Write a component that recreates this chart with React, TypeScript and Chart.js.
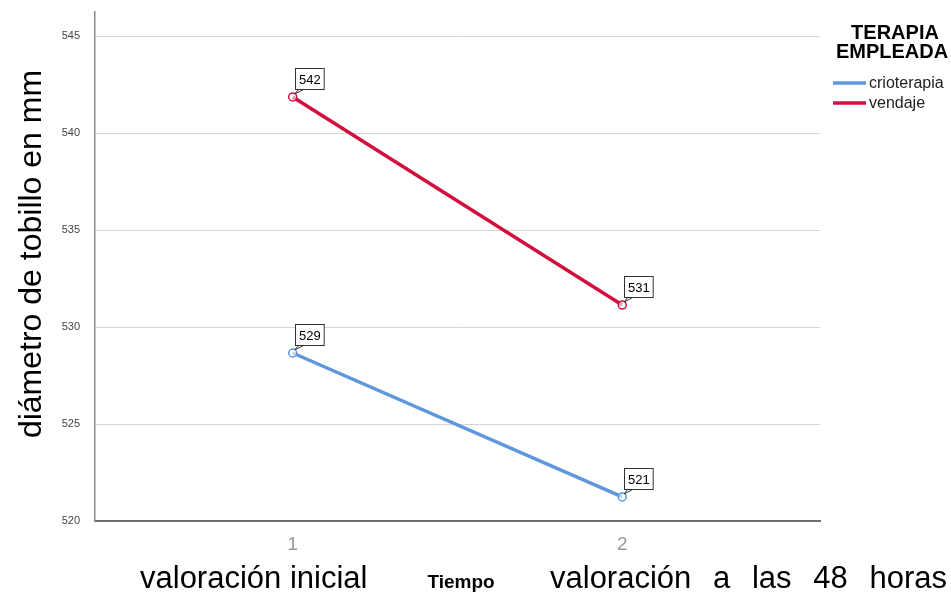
import React, { useEffect, useRef } from 'react';
import { Chart, registerables } from 'chart.js';

Chart.register(...registerables);

// ---- data ----
const timePoints = [1, 2];
const xTickLabels = ['1', '2'];
const yTicks = [520, 525, 530, 535, 540, 545];
const crioterapia = [528.66, 521.24];
const vendaje = [541.86, 531.13];
const crioLabels = ['529', '521'];
const vendajeLabels = ['542', '531'];
const seriesNames = ['crioterapia', 'vendaje'];
const seriesColors = ['#5f97dc', '#d2103e'];
const legendTitle = ['TERAPIA', 'EMPLEADA'];
const yTitle = 'diámetro de tobillo en mm';
const xTitle = 'Tiempo';
const xCatLeft = 'valoración inicial';
const xCatRight = ['valoración', 'a', 'las', '48', 'horas'];

const FONT = '"Liberation Sans", Arial, sans-serif';

const decorPlugin = {
  id: 'decor',
  afterDraw(chart: any) {
    const ctx: CanvasRenderingContext2D = chart.ctx;
    const ys = chart.scales.y;
    const xs = chart.scales.x;
    ctx.save();

    // y tick labels
    ctx.fillStyle = '#444';
    ctx.font = `11px ${FONT}`;
    ctx.textAlign = 'right';
    ctx.textBaseline = 'middle';
    yTicks.forEach((v) => ctx.fillText(String(v), 80, ys.getPixelForValue(v)));

    // x tick labels
    ctx.fillStyle = '#999';
    ctx.font = `19px ${FONT}`;
    ctx.textAlign = 'center';
    ctx.textBaseline = 'alphabetic';
    timePoints.forEach((v, i) => ctx.fillText(xTickLabels[i], xs.getPixelForValue(v), 550));

    // y title
    ctx.save();
    ctx.translate(41, 254);
    ctx.rotate(-Math.PI / 2);
    ctx.fillStyle = '#000';
    ctx.font = `32px ${FONT}`;
    ctx.textAlign = 'center';
    ctx.textBaseline = 'alphabetic';
    ctx.fillText(yTitle, 0, 0);
    ctx.restore();

    // x titles
    ctx.fillStyle = '#000';
    ctx.textBaseline = 'alphabetic';
    ctx.font = `31px ${FONT}`;
    ctx.textAlign = 'left';
    ctx.fillText(xCatLeft, 140, 588);
    // justified right text
    const left = 550;
    const right = 947;
    const widths = xCatRight.map((w) => ctx.measureText(w).width);
    const total = widths.reduce((a, b) => a + b, 0);
    const gap = (right - left - total) / (xCatRight.length - 1);
    let cx = left;
    xCatRight.forEach((w, i) => {
      ctx.fillText(w, cx, 588);
      cx += widths[i] + gap;
    });
    ctx.font = `bold 19px ${FONT}`;
    ctx.textAlign = 'center';
    ctx.fillText(xTitle, 461, 588);

    // legend
    ctx.font = `bold 20px ${FONT}`;
    ctx.textAlign = 'center';
    ctx.fillText(legendTitle[0], 895, 39);
    ctx.fillText(legendTitle[1], 892, 58);
    ctx.font = `16px ${FONT}`;
    ctx.textAlign = 'left';
    ctx.textBaseline = 'middle';
    seriesNames.forEach((name, i) => {
      const y = 83 + i * 20;
      ctx.strokeStyle = seriesColors[i];
      ctx.lineWidth = 3.5;
      ctx.beginPath();
      ctx.moveTo(833, y);
      ctx.lineTo(866, y);
      ctx.stroke();
      ctx.fillStyle = '#222';
      ctx.fillText(name, 869, y + 1);
    });

    // data label boxes
    const labelSets = [crioLabels, vendajeLabels];
    ctx.font = `13px ${FONT}`;
    chart.data.datasets.forEach((ds: any, di: number) => {
      const meta = chart.getDatasetMeta(di);
      meta.data.forEach((pt: any, pi: number) => {
        const txt = labelSets[di][pi];
        const px = pt.x;
        const py = pt.y;
        const w = ctx.measureText(txt).width + 7;
        const h = 21;
        const bx = Math.round(px + 2) + 0.5;
        const by = Math.round(py - 8 - h) + 0.5;
        ctx.fillStyle = '#fff';
        ctx.fillRect(bx, by, w, h);
        ctx.strokeStyle = '#333';
        ctx.lineWidth = 1;
        ctx.strokeRect(bx, by, w, h);
        // tail
        ctx.beginPath();
        ctx.moveTo(bx + 3, by + h);
        ctx.lineTo(px + 2, py - 3);
        ctx.lineTo(bx + 8, by + h);
        ctx.stroke();
        ctx.fillStyle = '#000';
        ctx.textAlign = 'center';
        ctx.textBaseline = 'middle';
        ctx.fillText(txt, bx + w / 2, by + h / 2 + 1);
      });
    });

    ctx.restore();
  },
};

export default function App() {
  const ref = useRef<HTMLCanvasElement>(null);
  useEffect(() => {
    const canvas = ref.current;
    if (!canvas) return;
    const mk = (vals: number[]) => timePoints.map((t, i) => ({ x: t, y: vals[i] }));
    const chart = new Chart(canvas, {
      type: 'line',
      data: {
        datasets: [
          {
            label: seriesNames[0],
            data: mk(crioterapia),
            borderColor: seriesColors[0],
            backgroundColor: '#ffffff',
            borderWidth: 3.5,
            pointRadius: 4,
            pointBorderWidth: 1.5,
            pointBorderColor: seriesColors[0],
            pointBackgroundColor: 'rgba(255,255,255,0.6)',
          },
          {
            label: seriesNames[1],
            data: mk(vendaje),
            borderColor: seriesColors[1],
            backgroundColor: '#ffffff',
            borderWidth: 3.5,
            pointRadius: 4,
            pointBorderWidth: 1.5,
            pointBorderColor: seriesColors[1],
            pointBackgroundColor: 'rgba(255,255,255,0.6)',
          },
        ],
      },
      options: {
        responsive: false,
        animation: false,
        layout: { padding: { left: 95, right: 131, top: 12, bottom: 73 } },
        plugins: { legend: { display: false }, tooltip: { enabled: false } },
        scales: {
          x: {
            type: 'linear',
            min: 0.4,
            max: 2.6,
            afterBuildTicks: (s: any) => {
              s.ticks = timePoints.map((v) => ({ value: v }));
            },
            ticks: { display: false },
            grid: { display: false, drawTicks: false },
            border: { color: '#6e6e6e', width: 2 },
          },
          y: {
            type: 'linear',
            min: 520,
            max: 546.24,
            afterBuildTicks: (s: any) => {
              s.ticks = yTicks.map((v) => ({ value: v }));
            },
            ticks: { display: false },
            grid: { color: '#d6d6d6', lineWidth: 1, drawTicks: false },
            border: { color: '#8c8c8c', width: 1.5 },
          },
        },
      },
      plugins: [decorPlugin],
    });
    return () => chart.destroy();
  }, []);
  return (
    <div style={{ position: 'fixed', left: 0, top: 0, width: 951, height: 594, background: '#fff' }}>
      <canvas ref={ref} width={951} height={594} style={{ display: 'block' }} />
    </div>
  );
}
